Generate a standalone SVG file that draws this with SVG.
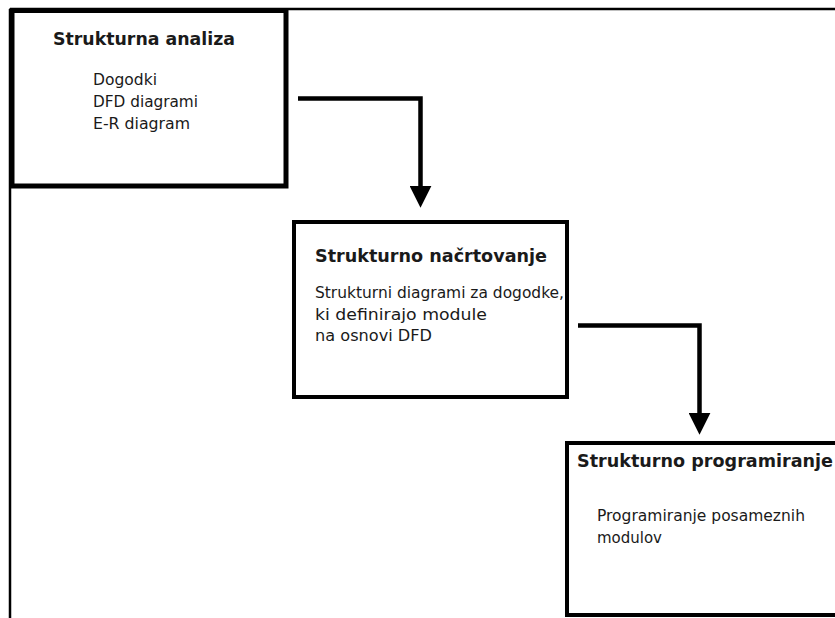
<svg xmlns="http://www.w3.org/2000/svg" width="835" height="618" viewBox="0 0 835 618">
  <style>
    .box { fill: #ffffff; stroke: #000000; }
    .title { font-family: "DejaVu Sans", "Liberation Sans", sans-serif; font-weight: bold; font-size: 17.5px; fill: #1a1a1a; }
    .body { font-family: "DejaVu Sans", "Liberation Sans", sans-serif; font-size: 15.5px; fill: #1a1a1a; }
    .conn { fill: none; stroke: #000000; stroke-width: 4.5; }
    .frame { stroke: #000000; stroke-width: 2.5; fill: none; }
  </style>
  <defs>
    <marker id="arrow" markerUnits="userSpaceOnUse" markerWidth="22" markerHeight="22" viewBox="0 0 21 21" refX="4" refY="10.5" orient="auto">
      <path d="M0,0 L21,10.5 L0,21 Z" fill="#000000"/>
    </marker>
  </defs>
  <rect x="0" y="0" width="835" height="618" fill="#ffffff"/>
  <g id="frame">
    <line class="frame" x1="10" y1="9" x2="835" y2="9"/>
    <line class="frame" x1="10" y1="9" x2="10" y2="618"/>
  </g>
  <g id="node-analiza">
    <rect class="box" x="12" y="10.5" width="274" height="175.5" stroke-width="5"/>
    <text class="title" x="53" y="45" textLength="182" lengthAdjust="spacingAndGlyphs">Strukturna analiza</text>
    <text class="body" x="93" y="85" textLength="64" lengthAdjust="spacingAndGlyphs">Dogodki</text>
    <text class="body" x="93" y="107" textLength="105" lengthAdjust="spacingAndGlyphs">DFD diagrami</text>
    <text class="body" x="93" y="128.5" textLength="97" lengthAdjust="spacingAndGlyphs">E-R diagram</text>
  </g>
  <g id="node-nacrtovanje">
    <rect class="box" x="294" y="222" width="273" height="175" stroke-width="4"/>
    <text class="title" x="315" y="262" textLength="232" lengthAdjust="spacingAndGlyphs">Strukturno načrtovanje</text>
    <text class="body" x="315" y="298" textLength="249" lengthAdjust="spacingAndGlyphs">Strukturni diagrami za dogodke,</text>
    <text class="body" x="315" y="320" textLength="172" lengthAdjust="spacingAndGlyphs">ki definirajo module</text>
    <text class="body" x="315" y="341" textLength="117" lengthAdjust="spacingAndGlyphs">na osnovi DFD</text>
  </g>
  <g id="node-programiranje">
    <rect class="box" x="567" y="443" width="290" height="172" stroke-width="4"/>
    <text class="title" x="577" y="467" textLength="256" lengthAdjust="spacingAndGlyphs">Strukturno programiranje</text>
    <text class="body" x="597" y="521" textLength="208" lengthAdjust="spacingAndGlyphs">Programiranje posameznih</text>
    <text class="body" x="597" y="543" textLength="65" lengthAdjust="spacingAndGlyphs">modulov</text>
  </g>
  <g id="connectors">
    <polyline class="conn" points="298,98.5 420.5,98.5 420.5,190" marker-end="url(#arrow)"/>
    <polyline class="conn" points="578,325.5 699.5,325.5 699.5,417" marker-end="url(#arrow)"/>
  </g>
</svg>
